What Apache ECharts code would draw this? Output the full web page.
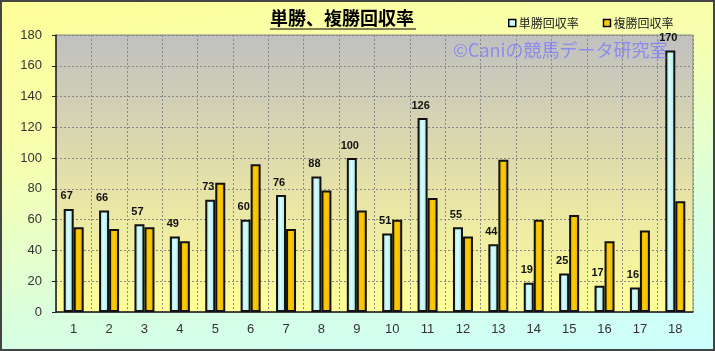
<!DOCTYPE html>
<html>
<head>
<meta charset="utf-8">
<script src="https://cdn.jsdelivr.net/npm/echarts@6/dist/echarts.min.js"></script>
<style>
  html, body { margin: 0; padding: 0; }
  #chart {
    width: 715px; height: 351px;
    box-shadow: inset 0 0 0 2px #444;
    background: linear-gradient(170deg, #ffff99 0%, #f6ffb0 35%, #d8ffe0 70%, #ccffff 100%);
  }
</style>
</head>
<body>
<div id="chart"></div>
<script>
const categories = ['1','2','3','4','5','6','7','8','9','10','11','12','13','14','15','16','17','18'];
const tanshoRate = [67, 66, 57, 49, 73, 60, 76, 88, 100, 51, 126, 55, 44, 19, 25, 17, 16, 170];
const fukushoRate = [55, 54, 55, 46, 84, 96, 54, 79, 66, 60, 74, 49, 99, 60, 63, 46, 53, 72];
const yTicks = [0, 20, 40, 60, 80, 100, 120, 140, 160, 180];

const chart = echarts.init(document.getElementById('chart'));

const option = {
  backgroundColor: 'transparent',
  textStyle: { fontFamily: '"Noto Sans CJK JP", "Liberation Sans", sans-serif' },
  title: {
    text: '単勝、複勝回収率',
    left: 270,
    top: 9,
    padding: 0,
    backgroundColor: 'transparent',
    textStyle: {
      fontSize: 18, fontWeight: 'bold', color: '#000',
      textShadowBlur: 0, textShadowColor: 'transparent',
      fontFamily: '"Noto Sans CJK JP", sans-serif'
    }
  },
  legend: {
    top: 12,
    left: 503,
    itemWidth: 7,
    itemHeight: 7,
    itemGap: 24,
    icon: 'rect',
    textStyle: { fontSize: 12, color: '#222', padding: [0, 0, 0, -2] },
    data: [
      { name: '単勝回収率', itemStyle: { color: '#ccffff', borderColor: '#000', borderWidth: 1.5 } },
      { name: '複勝回収率', itemStyle: { color: '#ffcc00', borderColor: '#000', borderWidth: 1.5 } }
    ]
  },
  graphic: [
    { type: 'line', shape: { x1: 270, y1: 29, x2: 416, y2: 29 }, style: { stroke: '#000', lineWidth: 1.2 } },
    {
      type: 'text', left: 453, top: 41, z: 100,
      style: {
        text: '©Caniの競馬データ研究室',
        fill: 'rgba(120,120,255,0.75)',
        font: '18px "Noto Sans CJK JP", sans-serif'
      }
    }
  ],
  grid: {
    left: 56, right: 22, top: 35, bottom: 39,
    show: true,
    borderColor: '#888',
    borderWidth: 1,
    backgroundColor: new echarts.graphic.LinearGradient(0, 0, 0, 1, [
      { offset: 0, color: '#c0c0c0' },
      { offset: 0.55, color: '#e6e2a8' },
      { offset: 1, color: '#ffff99' }
    ])
  },
  xAxis: {
    type: 'category',
    data: categories,
    axisLine: { lineStyle: { color: '#222', width: 1.5 } },
    axisTick: { show: false },
    axisLabel: { color: '#333', fontSize: 13, margin: 11, fontFamily: '"Liberation Sans", sans-serif' },
    splitLine: { show: true, interval: 0, lineStyle: { color: '#888', type: [2, 2] } }
  },
  yAxis: {
    type: 'value',
    min: yTicks[0],
    max: yTicks[yTicks.length - 1],
    interval: 20,
    axisLine: { show: true, lineStyle: { color: '#222', width: 1.5 } },
    axisTick: { show: true, length: 4, lineStyle: { color: '#222' } },
    axisLabel: { color: '#333', fontSize: 13, margin: 14, fontFamily: '"Liberation Sans", sans-serif' },
    splitLine: { lineStyle: { color: '#888', type: [2, 2] } }
  },
  series: [
    {
      name: '単勝回収率',
      type: 'bar',
      data: tanshoRate,
      barWidth: 10,
      barGap: '0%',
      itemStyle: {
        color: new echarts.graphic.LinearGradient(0, 0, 1, 0, [
          { offset: 0, color: '#9fd6d6' },
          { offset: 0.45, color: '#d6ffff' },
          { offset: 1, color: '#a8e0e0' }
        ]),
        borderColor: '#111',
        borderWidth: 2
      },
      label: {
        show: true, position: 'top', distance: 7, offset: [-2, 0],
        color: '#111', fontSize: 11, fontWeight: 'bold',
        fontFamily: '"Liberation Sans", sans-serif'
      }
    },
    {
      name: '複勝回収率',
      type: 'bar',
      data: fukushoRate,
      barWidth: 10,
      itemStyle: {
        color: new echarts.graphic.LinearGradient(0, 0, 1, 0, [
          { offset: 0, color: '#d9a800' },
          { offset: 0.45, color: '#ffcc00' },
          { offset: 1, color: '#e0b000' }
        ]),
        borderColor: '#111',
        borderWidth: 2
      }
    }
  ]
};

chart.setOption(option);
</script>
</body>
</html>
